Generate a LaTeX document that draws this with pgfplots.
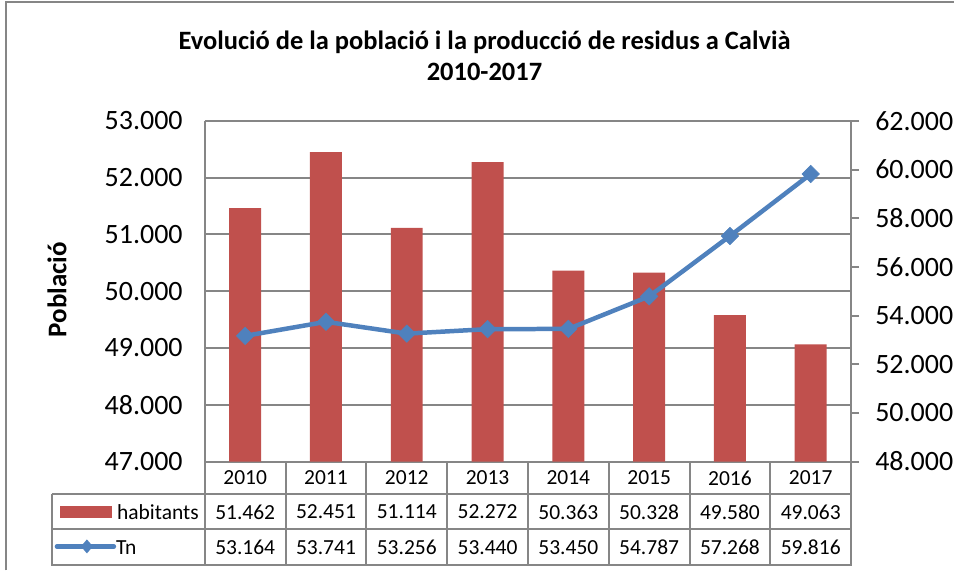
\documentclass[border=0pt]{standalone}
\usepackage{pgfplots}
\pgfplotsset{compat=1.18}
\usepackage{fontspec}
\setmainfont{Carlito}
\definecolor{barred}{HTML}{C0504D}
\definecolor{lineblue}{HTML}{4F81BD}
\definecolor{gridgray}{HTML}{868686}
\pgfplotsset{
  twin/.style={
    at={(205pt,109pt)}, anchor=south west,
    width=647pt, height=341pt, scale only axis,
    xmin=-0.5, xmax=7.5, scaled y ticks=false,
    axis line style={gridgray, line width=2pt, -},
    /pgf/number format/.cd, fixed, precision=0, 1000 sep={.}, assume math mode=true,
  }
}
\begin{document}
\begin{tikzpicture}
\begin{axis}[
  twin,
  ymin=47000, ymax=53000,
  ytick={47000,48000,49000,50000,51000,52000,53000},
  ymajorgrids, grid style={gridgray, line width=2pt},
  axis x line*=bottom, axis y line*=left,
  major tick length=0pt,
  xtick=\empty,
  yticklabel style={anchor=east, inner sep=0pt, xshift=-22pt, font=\fontsize{28}{32}\selectfont},
]
\addplot[ybar, bar width=32pt, fill=barred, draw=none] coordinates {
(0,51462) (1,52451) (2,51114) (3,52272) (4,50363) (5,50328) (6,49580) (7,49063)};
\end{axis}

\begin{axis}[
  twin,
  ymin=48000, ymax=62000,
  ytick={48000,50000,52000,54000,56000,58000,60000,62000},
  axis x line=none, axis y line*=right,
  ytick style={gridgray, line width=2pt},
  major tick length=8pt, tick align=outside,
  yticklabel style={anchor=west, inner sep=0pt, xshift=16pt, font=\fontsize{28}{32}\selectfont},
]
\addplot[lineblue, line width=4.5pt, mark=square*, mark size=6.2pt,
  mark options={rotate=45, line width=0.5pt, fill=lineblue, draw=lineblue}] coordinates {
(0,53164) (1,53741) (2,53256) (3,53440) (4,53450) (5,54787) (6,57268) (7,59816)};
\end{axis}

\begin{scope}[x=1pt,y=1pt]
\path (0,0) rectangle (955,571);
\draw[gridgray, line width=2pt] (6,0) -- (6,568.5) -- (955,568.5);
\node[font=\bfseries\fontsize{26.5}{30}\selectfont] at (485,529) {Evolució de la població i la producció de residus a Calvià};
\node[font=\bfseries\fontsize{26.5}{30}\selectfont] at (485,499) {2010-2017};
\node[font=\bfseries\fontsize{27}{30}\selectfont, rotate=90] at (57,281) {Població};
% data table
\begin{scope}[gridgray, line width=2pt]
\draw (52,76) -- (852,76);
\draw (52,41) -- (852,41);
\draw (52,5) -- (852,5);
\draw (52,76) -- (52,4);
\foreach \k in {0,...,8} {\draw (205+\k*80.875,109) -- (205+\k*80.875,4);}
\end{scope}
\foreach \v [count=\i from 0] in {2010,2011,2012,2013,2014,2015,2016,2017}
  {\node[font=\fontsize{21.5}{25}\selectfont, inner sep=0pt] at (205+\i*80.875+40.44,92.5) {\v};}
\foreach \v [count=\i from 0] in {51.462,52.451,51.114,52.272,50.363,50.328,49.580,49.063}
  {\node[font=\fontsize{21.5}{25}\selectfont, inner sep=0pt] at (205+\i*80.875+40.44,58.5) {\v};}
\foreach \v [count=\i from 0] in {53.164,53.741,53.256,53.440,53.450,54.787,57.268,59.816}
  {\node[font=\fontsize{21.5}{25}\selectfont, inner sep=0pt] at (205+\i*80.875+40.44,23) {\v};}
\fill[barred] (60,52) rectangle (112,64);
\draw[lineblue, line width=4.5pt, line cap=round] (57,24) -- (114,24);
\fill[lineblue] (87,31) -- (93,24) -- (87,17) -- (81,24) -- cycle;
\node[font=\fontsize{21.5}{25}\selectfont, anchor=west, inner sep=0pt] at (117,58.5) {habitants};
\node[font=\fontsize{21.5}{25}\selectfont, anchor=west, inner sep=0pt] at (116,23) {Tn};
\end{scope}
\end{tikzpicture}
\end{document}
